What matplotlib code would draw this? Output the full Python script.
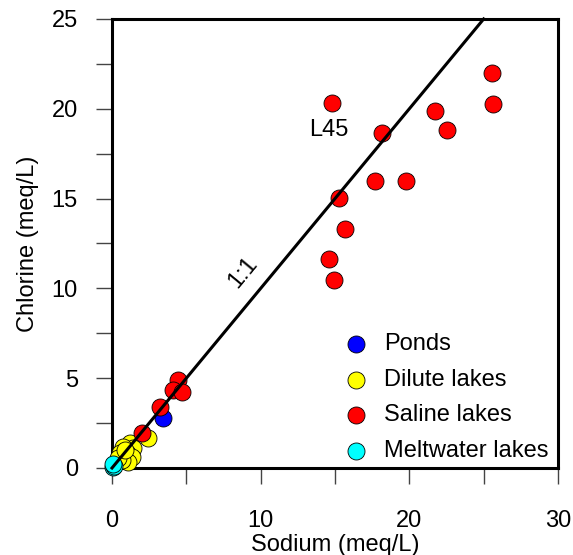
import matplotlib
matplotlib.use("Agg")
import matplotlib.pyplot as plt
from matplotlib.ticker import MultipleLocator

plt.rcParams['font.family'] = ['Liberation Sans', 'DejaVu Sans']

# Sodium (x) and chlorine (y) concentrations, meq/L
ponds_na = [3.45]
ponds_cl = [2.77]

dilute_na = [2.44, 1.21, 1.43, 0.99, 1.32, 0.76, 0.54, 1.10, 0.65, 0.40, 0.85]
dilute_cl = [1.65, 1.37, 1.09, 0.82, 0.63, 1.19, 0.82, 0.35, 0.45, 0.55, 1.00]

saline_na = [14.77, 18.14, 21.72, 22.51, 25.53, 25.64, 17.71, 19.77, 15.29,
             15.67, 14.62, 14.91, 4.46, 4.12, 4.69, 3.23, 2.00]
saline_cl = [20.31, 18.67, 19.88, 18.82, 22.01, 20.25, 15.98, 15.98, 15.01,
             13.29, 11.64, 10.47, 4.90, 4.34, 4.25, 3.41, 1.93]

melt_na = [0.05, 0.12, 0.08]
melt_cl = [0.05, 0.12, 0.20]

line_vals = [0, 25]

fig = plt.figure(figsize=(5.73, 5.55), dpi=100)
ax = fig.add_axes([0.1955, 0.1568, 0.7783, 0.809])

fs = 17
ms = 150
kw = dict(s=ms, edgecolors='black', linewidths=0.6, clip_on=False, zorder=5)
ax.scatter(ponds_na, ponds_cl, c='#0000ff', label='Ponds', **kw)
ax.scatter(dilute_na, dilute_cl, c='#ffff00', label='Dilute lakes', **kw)
ax.scatter(saline_na, saline_cl, c='#ff0000', label='Saline lakes', **kw)
ax.scatter(melt_na, melt_cl, c='#00ffff', label='Meltwater lakes', **kw)

ax.plot(line_vals, line_vals, color='black', lw=2.2, zorder=6, clip_on=False)

ax.text(8.8, 10.9, '1:1', rotation=50.4, ha='center', va='center', fontsize=fs)
ax.text(14.6, 18.8, 'L45', ha='center', va='center', fontsize=fs)

ax.set_xlim(0, 30)
ax.set_ylim(0, 25)
ax.xaxis.set_major_locator(MultipleLocator(10))
ax.xaxis.set_minor_locator(MultipleLocator(5))
ax.yaxis.set_major_locator(MultipleLocator(5))
ax.yaxis.set_minor_locator(MultipleLocator(2.5))

ax.tick_params(which='both', direction='out', length=11.5, width=1.0,
               color='#444444', labelsize=fs)
ax.tick_params(axis='x', which='major', pad=18.5)
ax.tick_params(axis='y', which='major', pad=13)

for sp in ax.spines.values():
    sp.set_linewidth(2.2)
    sp.set_color('black')

ax.set_xlabel('Sodium (meq/L)', fontsize=fs, labelpad=2)
ax.set_ylabel('Chlorine (meq/L)', fontsize=fs, labelpad=9)

ax.legend(loc='lower right', frameon=False, fontsize=fs, markerscale=1.0,
          handletextpad=0.45, labelspacing=0.58, borderaxespad=0.0,
          handlelength=1.5, bbox_to_anchor=(1.0, -0.008))

fig.savefig('out.png', dpi=100)
